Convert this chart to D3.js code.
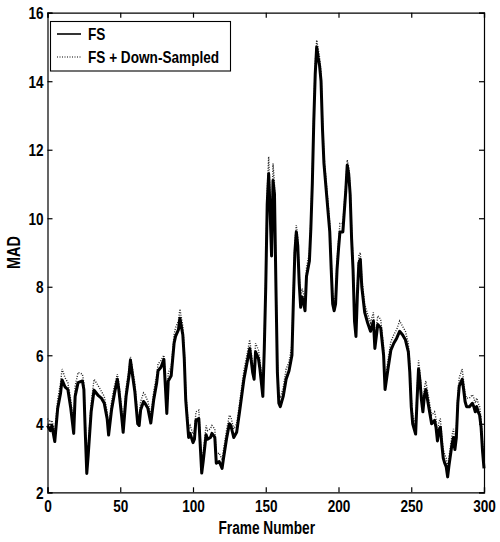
<!DOCTYPE html>
<html>
<head>
<meta charset="utf-8">
<script src="https://cdn.jsdelivr.net/npm/d3@7"></script>
<style>
  html, body { margin: 0; padding: 0; background: #fff; }
  svg text { font-family: "Liberation Sans", Arial, sans-serif; font-weight: bold; fill: #000; }
</style>
</head>
<body>
<svg id="chart" width="500" height="542"></svg>
<script>
// Frame indices at which the MAD curves are sampled
const frames = [0,2,3,5,7,9,10,12,14,16,18,19,21,24,25,26,27,28,30,32,35,37,39,41,42,44,46,48,49,51,52,54,56,57,59,60,62,63,64,66,67,69,71,73,75,76,78,80,81,82,83,85,87,88,90,91,93,94,95,97,98,100,101,102,104,106,107,109,110,112,113,115,116,118,120,121,123,125,126,128,130,132,135,137,139,141,142,143,145,146,148,149,150,151,152,153,154,155,156,157,158,159,160,162,164,166,168,169,170,171,172,173,174,175,176,177,178,180,181,182,183,184,185,186,187,188,189,190,192,193,194,195,196,197,198,199,200,201,203,205,206,207,208,209,210,211,212,213,214,215,216,218,220,222,224,225,227,229,231,232,234,236,238,240,242,244,246,248,249,250,251,253,254,255,256,257,258,259,260,262,264,266,267,268,269,270,271,272,273,274,275,276,277,278,279,280,281,282,283,285,286,287,288,290,292,293,294,295,296,297,298,299,300];

// Full search
const fs = [3.95,3.8,3.95,3.48,4.45,4.9,5.28,5.08,5.0,4.45,3.72,4.8,5.2,5.25,5.0,3.7,2.55,3.1,4.35,4.98,4.82,4.75,4.6,4.15,3.67,4.4,4.88,5.3,5.0,4.2,3.75,4.8,5.4,5.86,5.25,4.95,4.0,3.95,4.4,4.65,4.6,4.45,4.02,4.7,5.18,5.55,5.65,5.88,5.1,4.3,5.25,5.4,6.35,6.55,6.75,7.08,6.6,5.9,4.7,3.6,3.72,3.45,3.55,4.1,4.15,2.56,2.9,3.68,3.55,3.6,3.72,3.6,2.85,2.9,2.7,3.0,3.55,4.0,3.95,3.6,3.75,4.35,5.3,5.75,6.2,5.5,5.3,6.1,5.9,5.6,4.8,6.2,8.0,10.4,11.3,10.2,8.9,11.1,10.7,8.0,5.5,4.6,4.5,4.8,5.3,5.55,6.0,7.6,9.0,9.6,9.2,8.1,7.4,7.7,7.55,7.3,8.3,8.75,9.7,11.0,12.8,14.2,15.0,14.7,14.45,14.0,12.6,11.6,10.6,10.1,9.6,8.5,7.5,7.3,7.5,8.5,9.1,9.6,9.6,10.8,11.55,11.3,10.7,9.4,8.5,7.0,6.55,7.8,8.7,8.8,8.0,7.25,6.95,6.7,7.0,6.2,6.9,6.8,6.0,5.0,5.6,6.15,6.35,6.5,6.7,6.6,6.45,6.1,5.5,4.5,4.0,3.7,4.7,5.6,5.25,4.7,4.35,4.8,5.0,4.5,4.0,4.1,3.9,3.5,3.8,3.9,3.4,3.0,2.85,2.75,2.45,2.8,3.1,3.4,3.6,3.25,3.6,4.6,5.1,5.3,5.0,4.65,4.5,4.5,4.6,4.5,4.35,4.5,4.35,4.25,3.9,3.2,2.7];

// Full search on down-sampled frames
const fsDown = [4.15,4.05,4.1,3.75,4.7,5.2,5.6,5.35,5.2,4.7,3.95,5.1,5.5,5.45,5.2,3.95,2.75,3.35,4.6,5.3,5.1,4.95,4.8,4.35,3.85,4.65,5.1,5.45,5.2,4.45,4.0,5.05,5.6,5.95,5.45,5.2,4.25,4.2,4.65,4.9,4.85,4.65,4.25,4.95,5.4,5.75,5.85,6.0,5.35,4.55,5.5,5.65,6.6,6.8,7.0,7.35,6.85,6.15,4.95,3.85,3.95,3.7,3.8,4.35,4.4,2.8,3.15,3.95,3.8,3.85,3.95,3.85,3.1,3.15,2.95,3.25,3.8,4.25,4.2,3.85,4.0,4.6,5.55,6.0,6.45,5.75,5.55,6.35,6.15,5.85,5.05,6.45,8.3,10.8,11.8,10.6,9.2,11.6,11.0,8.3,5.8,4.85,4.75,5.05,5.6,5.8,6.3,7.9,9.3,9.8,9.45,8.35,7.65,7.95,7.8,7.55,8.55,9.0,9.95,11.25,13.05,14.5,15.2,14.95,14.7,14.25,12.85,11.85,10.85,10.35,9.85,8.75,7.75,7.55,7.75,8.75,9.35,9.85,9.85,11.0,11.7,11.5,10.9,9.65,8.75,7.25,6.8,8.05,8.9,9.0,8.25,7.5,7.2,6.95,7.25,6.45,7.15,7.05,6.25,5.25,5.85,6.4,6.6,6.75,7.0,6.85,6.7,6.35,5.75,4.75,4.25,3.95,4.95,5.85,5.5,4.95,4.6,5.05,5.25,4.75,4.25,4.35,4.15,3.75,4.05,4.15,3.65,3.25,3.1,3.0,2.7,3.05,3.35,3.65,3.85,3.5,3.85,4.85,5.35,5.6,5.25,4.9,4.75,4.75,4.85,4.75,4.6,4.75,4.6,4.5,4.15,3.45,2.95];

const xTicks = [0,50,100,150,200,250,300];
const yTicks = [2,4,6,8,10,12,14,16];
const seriesNames = ["FS", "FS + Down-Sampled"];

const svg = d3.select("#chart");
const plotLeft = 47.5, plotRight = 484, plotTop = 12.7, plotBottom = 492.3;

const x = d3.scaleLinear().domain([0, 300]).range([plotLeft, plotRight]);
const y = d3.scaleLinear().domain([2, 16]).range([plotBottom, plotTop]);

// Curves
const line = (vals) => d3.line()
  .x((d, i) => x(frames[i]))
  .y(d => y(d))
  .curve(d3.curveLinear)(vals);

svg.append("path")
  .attr("d", line(fsDown))
  .attr("fill", "none")
  .attr("stroke", "#222")
  .attr("stroke-width", 1.4)
  .attr("stroke-dasharray", "1,1.5");

svg.append("path")
  .attr("d", line(fs))
  .attr("fill", "none")
  .attr("stroke", "#000")
  .attr("stroke-width", 3)
  .attr("stroke-linejoin", "round");

// Axes (ticks pointing inward on all four sides)
const tickLen = 5;
const gB = svg.append("g").attr("transform", `translate(0,${plotBottom})`)
  .call(d3.axisBottom(x).tickValues(xTicks).tickSize(-tickLen).tickPadding(7).tickFormat(d3.format("d")));
const gT = svg.append("g").attr("transform", `translate(0,${plotTop})`)
  .call(d3.axisTop(x).tickValues(xTicks).tickSize(-tickLen).tickFormat(""));
const gL = svg.append("g").attr("transform", `translate(${plotLeft},0)`)
  .call(d3.axisLeft(y).tickValues(yTicks).tickSize(-tickLen).tickPadding(4).tickFormat(d3.format("d")));
const gR = svg.append("g").attr("transform", `translate(${plotRight},0)`)
  .call(d3.axisRight(y).tickValues(yTicks).tickSize(-tickLen).tickFormat(""));

[gB, gT, gL, gR].forEach(g => {
  g.select(".domain").attr("stroke", "#000").attr("stroke-width", 1.2);
  g.selectAll(".tick line").attr("stroke", "#000").attr("stroke-width", 1.2);
  g.selectAll("text").attr("font-size", 17).attr("font-family", null).attr("fill", "#000")
    .attr("data-squeeze", 0.8);
});
gB.selectAll(".tick text").attr("dy", "0.72em");
gL.selectAll(".tick text").attr("dy", "0.36em");

// Axis titles
svg.append("text")
  .attr("x", (plotLeft + plotRight) / 2 + 1).attr("y", 534)
  .attr("text-anchor", "middle").attr("font-size", 18)
  .attr("data-squeeze", 0.76)
  .text("Frame Number");
svg.append("text")
  .attr("transform", `translate(20,${(plotTop + plotBottom) / 2}) rotate(-90)`)
  .attr("text-anchor", "middle").attr("font-size", 18)
  .attr("data-squeeze", 0.8)
  .text("MAD");

// Legend
const lg = svg.append("g");
lg.append("rect")
  .attr("x", 50.5).attr("y", 21.5).attr("width", 180).attr("height", 49.5)
  .attr("fill", "#fff").attr("stroke", "#000").attr("stroke-width", 1.1);
const legY = [34, 57];
seriesNames.forEach((name, i) => {
  lg.append("line")
    .attr("x1", 57).attr("x2", 81).attr("y1", legY[i]).attr("y2", legY[i])
    .attr("stroke", "#000")
    .attr("stroke-width", i === 0 ? 1.6 : 1.1)
    .attr("stroke-dasharray", i === 0 ? null : "1,1.5");
  lg.append("text")
    .attr("x", 88).attr("y", legY[i]).attr("dy", "0.36em")
    .attr("font-size", 17)
    .attr("data-squeeze", 0.8)
    .text(name);
});

// Condensed bold lettering: squeeze labels horizontally
svg.selectAll("text").each(function () {
  const k = +this.getAttribute("data-squeeze") || 0.8;
  const w = this.getComputedTextLength();
  if (w > 0) {
    d3.select(this)
      .attr("textLength", (w * k).toFixed(1))
      .attr("lengthAdjust", "spacingAndGlyphs");
  }
});
</script>
</body>
</html>
